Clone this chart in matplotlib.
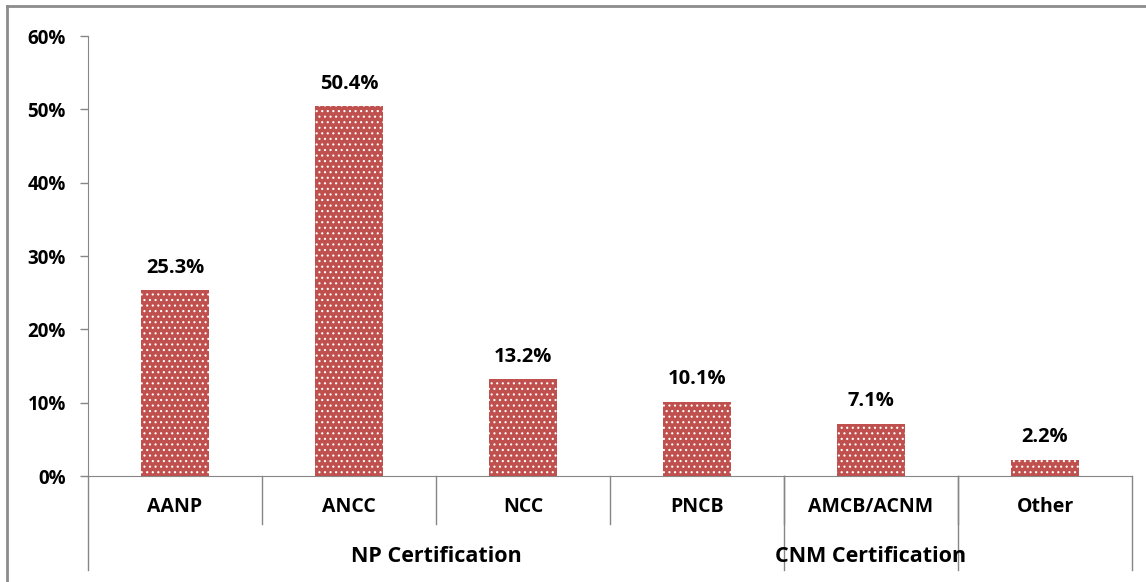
import matplotlib.pyplot as plt
import matplotlib.transforms as mtransforms
from matplotlib.lines import Line2D

# data
categories = ['AANP', 'ANCC', 'NCC', 'PNCB', 'AMCB/ACNM', 'Other']
shares = [25.3, 50.4, 13.2, 10.1, 7.1, 2.2]
groups = ['NP Certification', 'CNM Certification', '']
group_sizes = [4, 1, 1]
yticks = [0, 10, 20, 30, 40, 50, 60]

plt.rcParams['font.family'] = ['Open Sans', 'DejaVu Sans']
plt.rcParams['font.weight'] = 'bold'
plt.rcParams['hatch.color'] = 'white'
plt.rcParams['hatch.linewidth'] = 0.8

bar_color = '#C0504D'
axis_color = '#868686'

fig = plt.figure(figsize=(11.46, 5.82), dpi=100)
ax = fig.add_axes([88 / 1146, 1 - 476 / 582, (1132 - 88) / 1146, 440 / 582])

x = list(range(len(categories)))
bars = ax.bar(x, shares, width=0.39, color=bar_color, edgecolor='white',
              linewidth=0, hatch='...', zorder=3)

for xi, v in zip(x, shares):
    ax.annotate('%.1f%%' % v, (xi, v), xytext=(0, 9), textcoords='offset points',
                ha='center', va='bottom', fontsize=14.5, fontweight='bold')

ax.set_xlim(-0.5, len(categories) - 0.5)
ax.set_ylim(0, 60)
ax.set_yticks(yticks)
ax.set_yticklabels(['%d%%' % t for t in yticks], fontsize=13.5, fontweight='bold')
ax.tick_params(axis='y', length=6, width=1, color=axis_color, pad=10)
ax.set_xticks([])

for s in ['top', 'right']:
    ax.spines[s].set_visible(False)
ax.spines['left'].set_color(axis_color)
ax.spines['bottom'].set_color(axis_color)

# multi-level category axis
trans = mtransforms.blended_transform_factory(ax.transData, ax.transAxes)
cat_bottom = -48 / 440
grp_bottom = -94 / 440
for i, c in enumerate(categories):
    ax.text(i, -31 / 440, c, transform=trans, ha='center', va='center',
            fontsize=14, fontweight='bold')
for b in range(1, len(categories)):
    ax.plot([b - 0.5, b - 0.5], [0, cat_bottom], transform=trans,
            color=axis_color, lw=1, clip_on=False)

start = 0
edges = [0]
for g, n in zip(groups, group_sizes):
    mid = start + n / 2 - 0.5
    ax.text(mid, -81 / 440, g, transform=trans, ha='center', va='center',
            fontsize=15.5, fontweight='bold')
    start += n
    edges.append(start)
for e in edges:
    ax.plot([e - 0.5, e - 0.5], [0, grp_bottom], transform=trans,
            color=axis_color, lw=1, clip_on=False)

# outer frame (top and left edges visible in the crop)
fig.add_artist(Line2D([7 / 1146, 7 / 1146], [0, 1 - 6 / 582],
                      color='#8c8c8c', lw=2))
fig.add_artist(Line2D([7 / 1146, 1], [1 - 6 / 582, 1 - 6 / 582],
                      color='#8c8c8c', lw=2))

fig.savefig('out.png', dpi=100)
